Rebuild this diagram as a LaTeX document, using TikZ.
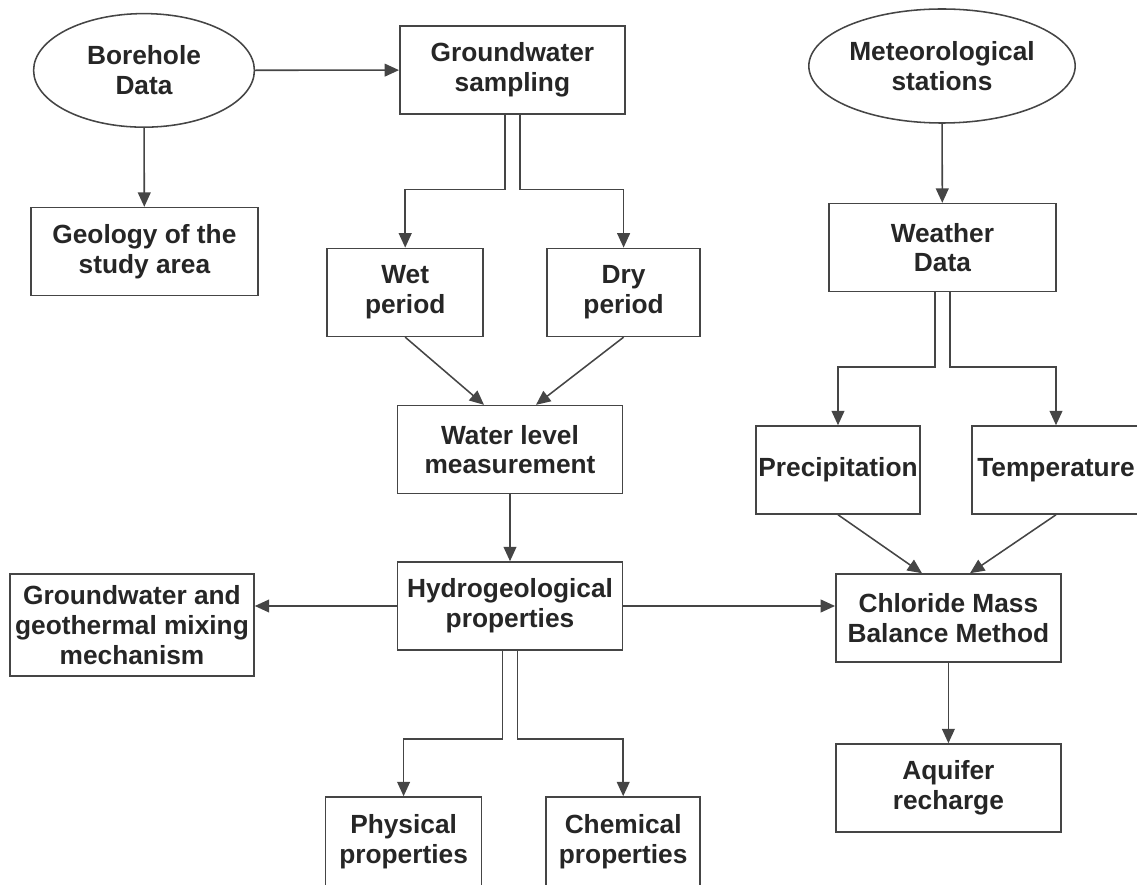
\documentclass[tikz,border=0pt]{standalone}
\usepackage{fontspec}
\setmainfont{Liberation Sans}
\usetikzlibrary{shapes,arrows.meta,positioning,calc}
\definecolor{linegray}{HTML}{454545}
\definecolor{textgray}{HTML}{262626}

\begin{document}
\begin{tikzpicture}[
    proc/.style={rectangle, draw=linegray, line width=1.1pt, minimum width=5.63cm, minimum height=2.2cm, inner sep=1pt, align=center, font=\bfseries\fontsize{18.7}{21.3}\selectfont, text=textgray},
    narrow/.style={proc, minimum width=3.9cm},
    src/.style={proc, ellipse, minimum width=5.52cm, minimum height=2.84cm},
    arrow/.style={-{Triangle[length=3.6mm,width=3.2mm]}, draw=linegray, line width=1.1pt}
]
\useasboundingbox (0,0) rectangle (28.425,22.1);

% Left column
\node[src] (borehole) at (3.6,20.34) {Borehole\\Data};
\node[proc, minimum width=5.68cm] (geology) at (3.61,15.81) {Geology of the\\study area};
\node[proc, minimum width=6.1cm, minimum height=2.55cm] (mixing) at (3.3,6.48) {Groundwater and\\geothermal mixing\\mechanism};

% Middle column
\node[proc] (gws) at (12.81,20.35) {Groundwater\\sampling};
\node[narrow] (wet) at (10.13,14.79) {Wet\\period};
\node[narrow, minimum width=3.83cm] (dry) at (15.59,14.79) {Dry\\period};
\node[proc] (level) at (12.75,10.86) {Water level\\measurement};
\node[proc] (hydro) at (12.75,6.95) {Hydrogeological\\properties};
\node[narrow, minimum height=2.23cm] (phys) at (10.09,1.06) {Physical\\properties};
\node[narrow, minimum width=3.85cm, minimum height=2.23cm] (chem) at (15.58,1.06) {Chemical\\properties};

% Right column
\node[src, minimum width=5.53cm, minimum height=2.85cm] (meteo) at (23.55,20.45) {Meteorological\\stations};
\node[proc, minimum width=5.68cm] (weather) at (23.56,15.91) {Weather\\Data};
\node[proc, minimum width=4.1cm] (precip) at (20.95,10.35) {Precipitation};
\node[proc, minimum width=4.2cm] (temp) at (26.4,10.35) {Temperature};
\node[proc] (cmb) at (23.71,6.65) {Chloride Mass\\Balance Method};
\node[proc] (aquifer) at (23.71,2.4) {Aquifer\\recharge};

% Borehole links
\draw[arrow] (borehole) -- (gws);
\draw[arrow] (borehole) -- (geology);

% Sampling periods
\draw[arrow] ([xshift=-0.19cm]gws.south) |- ([yshift=1.45cm]wet.north) -- (wet.north);
\draw[arrow] ([xshift=0.19cm]gws.south) |- ([yshift=1.45cm]dry.north) -- (dry.north);
\draw[arrow] (wet.south) -- ([xshift=-0.65cm]level.north);
\draw[arrow] (dry.south) -- ([xshift=0.65cm]level.north);
\draw[arrow] (level) -- (hydro);

% Hydrogeology outputs
\draw[arrow] (hydro.west) -- (hydro.west -| mixing.east);
\draw[arrow] (hydro.east) -- (hydro.east -| cmb.west);
\draw[arrow] ([xshift=-0.19cm]hydro.south) |- ([yshift=1.43cm]phys.north) -- (phys.north);
\draw[arrow] ([xshift=0.19cm]hydro.south) |- ([yshift=1.43cm]chem.north) -- (chem.north);

% Weather branch
\draw[arrow] (meteo) -- (weather);
\draw[arrow] ([xshift=-0.19cm]weather.south) |- ([yshift=1.45cm]precip.north) -- (precip.north);
\draw[arrow] ([xshift=0.19cm]weather.south) |- ([yshift=1.45cm]temp.north) -- (temp.north);
\draw[arrow] (precip.south) -- ([xshift=-0.66cm]cmb.north);
\draw[arrow] (temp.south) -- ([xshift=0.54cm]cmb.north);
\draw[arrow] (cmb) -- (aquifer);

\end{tikzpicture}
\end{document}
